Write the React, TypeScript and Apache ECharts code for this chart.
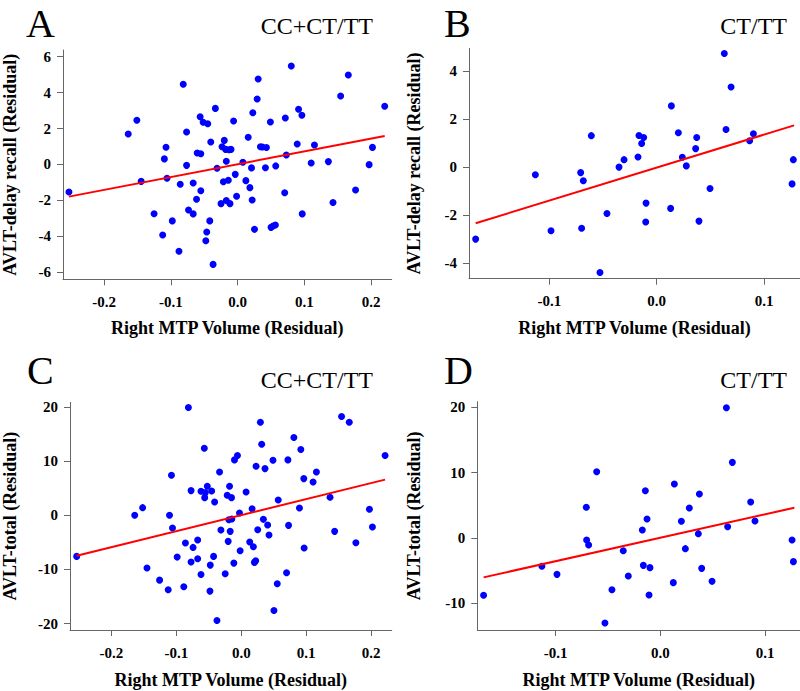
import React, { useEffect, useRef } from "react";
import * as echarts from "echarts";

// Panel A: AVLT-delay recall vs Right MTP volume, CC+CT/TT
const aX = [-0.2526, -0.1638, -0.1509, -0.1444, -0.1251, -0.1122, -0.1097, -0.1072, -0.1057, -0.0978, -0.0878, -0.0859, -0.0814, -0.0764, -0.0764, -0.0735, -0.0665, -0.0665, -0.0615, -0.0605, -0.0561, -0.0551, -0.0551, -0.0516, -0.0476, -0.0462, -0.0447, -0.0417, -0.0402, -0.0367, -0.0333, -0.0308, -0.0248, -0.0233, -0.0213, -0.0199, -0.0179, -0.0169, -0.0169, -0.0139, -0.0129, -0.0114, -0.0099, -0.006, -0.0035, -0.0015, 0.0079, 0.0124, 0.0159, 0.0184, 0.0208, 0.0218, 0.0228, 0.0253, 0.0293, 0.0308, 0.0342, 0.0372, 0.0417, 0.0432, 0.0491, 0.0501, 0.0531, 0.0566, 0.0571, 0.0705, 0.0715, 0.073, 0.0804, 0.0893, 0.0913, 0.0963, 0.0968, 0.1151, 0.1102, 0.136, 0.1429, 0.1543, 0.1658, 0.1767, 0.197, 0.202, 0.2203];
const aY = [-1.53, 1.7, 2.46, -0.94, -2.74, -3.92, 0.31, 0.96, -0.77, -3.14, -4.83, -1.1, 4.46, 1.81, -0.05, -2.53, -2.75, -1.03, -1.94, 0.64, 2.66, -1.46, 0.6, 2.35, -4.24, -3.76, 2.27, -3.14, 1.25, -5.56, 3.12, -0.21, -2.18, 0.99, -0.96, 1.34, 0.84, 0.18, -2.01, -0.88, 0.82, -2.18, 0.84, 2.42, -0.55, -1.77, 0.12, -0.9, 1.51, -1.29, -0.19, -1.98, 2.88, -3.61, 3.64, 4.76, 0.99, 0.97, -0.18, 0.94, 2.36, -3.5, -3.42, -3.37, -0.08, -1.57, 2.59, 0.53, 5.48, 1.14, 3.07, 2.74, -2.75, 1.08, 0.08, 0.16, -2.12, 3.81, 4.98, -1.42, -0.01, 0.95, 3.24];
const aLineX = [-0.2526, 0.2203];
const aLineY = [-1.79, 1.59];

// Panel B: AVLT-delay recall, CT/TT
const bX = [-0.1686, -0.113, -0.0984, -0.0708, -0.0699, -0.0683, -0.0609, -0.0528, -0.0463, -0.0351, -0.0304, -0.0174, -0.0165, -0.014, -0.0121, -0.0099, -0.0102, 0.013, 0.0137, 0.0202, 0.0239, 0.0276, 0.0363, 0.0373, 0.0394, 0.0497, 0.063, 0.0646, 0.0693, 0.0866, 0.0901, 0.1261, 0.1273];
const bY = [-2.99, -0.31, -2.64, -0.22, -2.54, -0.56, 1.32, -4.38, -1.92, 0.01, 0.32, 0.43, 1.33, 0.99, 1.24, -1.49, -2.28, -1.71, 2.56, 1.44, 0.42, 0.06, 0.78, 1.24, -2.24, -0.88, 4.74, 1.58, 3.35, 1.11, 1.4, -0.69, 0.32];
const bLineX = [-0.1686, 0.128];
const bLineY = [-2.33, 1.75];

// Panel C: AVLT-total, CC+CT/TT
const cX = [-0.2536, -0.1642, -0.152, -0.1453, -0.1259, -0.1126, -0.1106, -0.1076, -0.106, -0.0988, -0.0886, -0.0861, -0.0815, -0.0774, -0.0774, -0.0743, -0.0672, -0.0672, -0.0621, -0.0621, -0.057, -0.0564, -0.0554, -0.0524, -0.0483, -0.0478, -0.0457, -0.0427, -0.0411, -0.0375, -0.0335, -0.0314, -0.0248, -0.0217, -0.0202, -0.0192, -0.0181, -0.0171, -0.0151, -0.0146, -0.0115, -0.0105, -0.0059, -0.0028, -0.0018, 0.0074, 0.013, 0.0166, 0.0186, 0.0202, 0.0222, 0.0227, 0.0253, 0.0294, 0.0314, 0.034, 0.0365, 0.0406, 0.0427, 0.0488, 0.0503, 0.0554, 0.0569, 0.0697, 0.0718, 0.0728, 0.081, 0.0896, 0.0917, 0.0963, 0.0968, 0.1106, 0.1157, 0.1367, 0.1438, 0.1545, 0.1663, 0.1765, 0.1974, 0.202, 0.2215];
const cY = [-7.59, 0.0, 1.42, -9.75, -11.98, -13.77, 0.0, 7.41, -2.35, -7.72, -13.21, -5.12, 19.94, 4.57, -8.64, -5.93, -4.57, -8.02, -10.93, 4.44, 12.41, 3.27, 4.2, 5.37, -14.01, -9.2, 4.51, -7.59, 2.47, -19.44, 8.02, -2.72, -10.8, 3.7, -4.81, -0.8, 5.37, -2.96, 3.27, -0.68, -8.83, 10.25, 11.05, 0.43, -6.54, 4.32, -4.94, 1.23, -5.8, -8.7, -8.4, 9.07, -2.65, 17.22, 13.15, -0.74, 8.64, -1.79, -3.64, 10.19, -17.59, -12.65, 2.84, -10.62, 10.25, -1.85, 14.38, 1.36, 12.16, 6.79, -6.05, 6.17, 8.02, 3.33, -2.96, 18.27, 17.22, -5.06, 1.11, -2.16, 11.05];
const cLineX = [-0.2536, 0.2215];
const cLineY = [-7.47, 6.6];

// Panel D: AVLT-total, CT/TT
const dX = [-0.1688, -0.1131, -0.0987, -0.0707, -0.0704, -0.0685, -0.0608, -0.0529, -0.0462, -0.0354, -0.0306, -0.0172, -0.0162, -0.0143, -0.0127, -0.0099, -0.0108, 0.0124, 0.0134, 0.0201, 0.0239, 0.0277, 0.0363, 0.0373, 0.0395, 0.0494, 0.0631, 0.0643, 0.0688, 0.0863, 0.0904, 0.1258, 0.1271];
const dY = [-8.81, -4.37, -5.6, 4.68, -0.33, -1.1, 10.14, -13.06, -7.95, -1.97, -5.85, 1.2, -4.22, 7.23, 2.89, -4.57, -8.76, -6.87, 8.25, 2.53, -1.66, 4.57, 0.64, 6.72, -4.68, -6.67, 19.95, 1.71, 11.57, 5.49, 2.58, -0.33, -3.65];
const dLineX = [-0.1688, 0.128];
const dLineY = [-6.06, 4.62];

// Tick labels
const xTicksWide = [-0.2, -0.1, 0.0, 0.1, 0.2];
const xTicksNarrow = [-0.1, 0.0, 0.1];
const yTicksDelayA = [-6, -4, -2, 0, 2, 4, 6];
const yTicksDelayB = [-4, -2, 0, 2, 4];
const yTicksTotalC = [-20, -10, 0, 10, 20];
const yTicksTotalD = [-10, 0, 10, 20];

const panelLetters = ["A", "B", "C", "D"];
const panelGroups = ["CC+CT/TT", "CT/TT", "CC+CT/TT", "CT/TT"];
const xName = "Right MTP Volume (Residual)";
const yNames = ["AVLT-delay recall (Residual)", "AVLT-delay recall (Residual)", "AVLT-total (Residual)", "AVLT-total (Residual)"];

const FONT = "'Liberation Serif', 'Times New Roman', serif";

export default function App() {
  const ref = useRef<HTMLDivElement>(null);
  useEffect(() => {
    if (!ref.current) return;
    const chart = echarts.init(ref.current, undefined, { renderer: "svg" });

    const grids = [
      { left: 61, top: 50, width: 330.7, height: 229.3 },
      { left: 469, top: 48.3, width: 331, height: 230.4 },
      { left: 68.3, top: 402.3, width: 323.4, height: 227.7 },
      { left: 477.3, top: 401.7, width: 322.7, height: 228.3 },
    ];
    const xRanges = [
      [-0.2615, 0.2308],
      [-0.1748, 0.1335],
      [-0.2639, 0.2317],
      [-0.1748, 0.1334],
    ];
    const yRanges = [
      [-6.39, 6.37],
      [-4.64, 4.96],
      [-21.2, 20.9],
      [-14.13, 20.87],
    ];
    const xTicks = [xTicksWide, xTicksNarrow, xTicksWide, xTicksNarrow];
    const yTicks = [yTicksDelayA, yTicksDelayB, yTicksTotalC, yTicksTotalD];
    const yGaps = [44, 46, 51, 54];
    const xGaps = [40, 40, 41, 41];

    const axisLine = { show: true, onZero: false, lineStyle: { color: "#666", width: 1 } };
    const axisTick = (vals: number[]) => ({
      show: true,
      inside: false,
      length: 6,
      lineStyle: { color: "#666", width: 1 },
      customValues: vals,
    });
    const labelStyle = {
      fontFamily: FONT,
      fontWeight: "bold" as const,
      fontSize: 15,
      color: "#000",
    };
    const nameStyle = {
      fontFamily: FONT,
      fontWeight: "bold" as const,
      fontSize: 18,
      color: "#000",
    };

    const xAxis = grids.map((_, i) => ({
      type: "value",
      gridIndex: i,
      min: xRanges[i][0],
      max: xRanges[i][1],
      axisLine,
      axisTick: axisTick(xTicks[i]),
      axisLabel: {
        ...labelStyle,
        margin: 15,
        customValues: xTicks[i],
        formatter: (v: number) => v.toFixed(1),
      },
      splitLine: { show: false },
      name: xName,
      nameLocation: "middle",
      nameGap: xGaps[i],
      nameTextStyle: nameStyle,
    }));
    const yAxis = grids.map((_, i) => ({
      type: "value",
      gridIndex: i,
      min: yRanges[i][0],
      max: yRanges[i][1],
      axisLine,
      axisTick: axisTick(yTicks[i]),
      axisLabel: {
        ...labelStyle,
        margin: 12,
        customValues: yTicks[i],
        formatter: (v: number) => String(v),
      },
      splitLine: { show: false },
      name: yNames[i],
      nameLocation: "middle",
      nameGap: yGaps[i],
      nameTextStyle: nameStyle,
    }));

    const scatterData = [
      aX.map((x, k) => [x, aY[k]]),
      bX.map((x, k) => [x, bY[k]]),
      cX.map((x, k) => [x, cY[k]]),
      dX.map((x, k) => [x, dY[k]]),
    ];
    const lineData = [
      aLineX.map((x, k) => [x, aLineY[k]]),
      bLineX.map((x, k) => [x, bLineY[k]]),
      cLineX.map((x, k) => [x, cLineY[k]]),
      dLineX.map((x, k) => [x, dLineY[k]]),
    ];

    const series: any[] = [];
    for (let i = 0; i < 4; i++) {
      series.push({
        type: "scatter",
        xAxisIndex: i,
        yAxisIndex: i,
        data: scatterData[i],
        symbol: "circle",
        symbolSize: 7,
        itemStyle: { color: "#0000ff", opacity: 1 },
        z: 2,
      });
      series.push({
        type: "line",
        xAxisIndex: i,
        yAxisIndex: i,
        data: lineData[i],
        showSymbol: false,
        symbol: "none",
        lineStyle: { color: "#ff0000", width: 2 },
        z: 3,
      });
    }

    const letterPos = [
      { left: 26, top: 3 },
      { left: 444, top: 3 },
      { left: 27, top: 350 },
      { left: 444, top: 350 },
    ];
    const groupPos = [
      { right: 427, top: 14 },
      { right: 13, top: 14 },
      { right: 427, top: 368 },
      { right: 13, top: 368 },
    ];
    const title: any[] = [];
    for (let i = 0; i < 4; i++) {
      title.push({
        text: panelLetters[i],
        ...letterPos[i],
        padding: 0,
        textStyle: { fontFamily: FONT, fontWeight: "normal", fontSize: 40, lineHeight: 40, color: "#000" },
      });
      title.push({
        text: panelGroups[i],
        ...groupPos[i],
        padding: 0,
        textStyle: { fontFamily: FONT, fontWeight: "normal", fontSize: 24, color: "#000" },
      });
    }

    chart.setOption({
      animation: false,
      backgroundColor: "#fff",
      title,
      grid: grids,
      xAxis,
      yAxis,
      series,
    });
    return () => chart.dispose();
  }, []);

  return (
    <div
      ref={ref}
      style={{ position: "fixed", left: 0, top: 0, width: 800, height: 691 }}
    />
  );
}
